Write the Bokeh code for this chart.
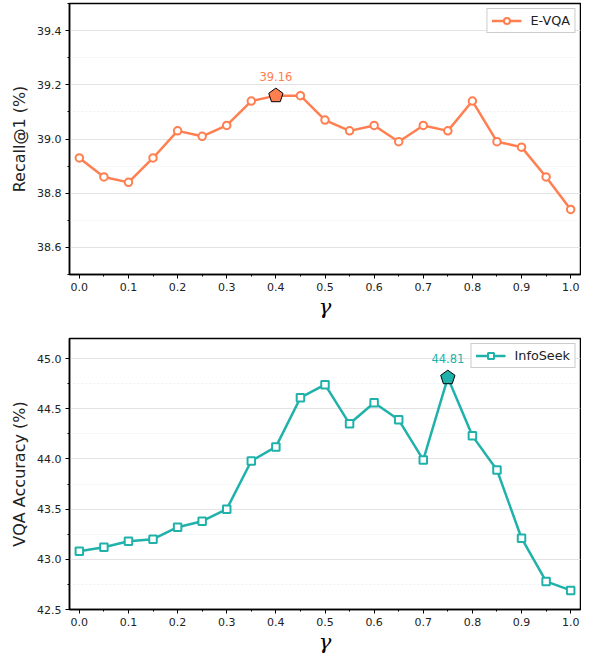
from bokeh.plotting import figure
from bokeh.layouts import column
from bokeh.models import Range1d, FixedTicker, PrintfTickFormatter, Legend, LegendItem
from bokeh.core.properties import value
from bokeh.embed import file_html
from bokeh.resources import INLINE

gamma = [0.0, 0.05, 0.1, 0.15, 0.2, 0.25, 0.3, 0.35, 0.4, 0.45, 0.5,
         0.55, 0.6, 0.65, 0.7, 0.75, 0.8, 0.85, 0.9, 0.95, 1.0]
evqa = [38.93, 38.86, 38.84, 38.93, 39.03, 39.01, 39.05, 39.14, 39.16, 39.16, 39.07,
        39.03, 39.05, 38.99, 39.05, 39.03, 39.14, 38.99, 38.97, 38.86, 38.74]
infoseek = [43.08, 43.12, 43.18, 43.20, 43.32, 43.38, 43.50, 43.98, 44.12, 44.61, 44.74,
            44.35, 44.56, 44.39, 43.99, 44.81, 44.23, 43.89, 43.21, 42.78, 42.69]

x_ticks = [0.0, 0.1, 0.2, 0.3, 0.4, 0.5, 0.6, 0.7, 0.8, 0.9, 1.0]
x_minor = [0.05, 0.15, 0.25, 0.35, 0.45, 0.55, 0.65, 0.75, 0.85, 0.95]
evqa_ticks = [38.6, 38.8, 39.0, 39.2, 39.4]
evqa_minor = [38.5, 38.7, 38.9, 39.1, 39.3, 39.5]
info_ticks = [42.5, 43.0, 43.5, 44.0, 44.5, 45.0]
info_minor = [42.75, 43.25, 43.75, 44.25, 44.75]

ORANGE = "#FF7F50"
TEAL = "#20B2AA"
FONT = "DejaVu Sans"


def make_panel(ys, name, color, marker, ylabel, yrange, yticks, yminor,
               height, border_top, border_bottom):
    p = figure(width=581, height=height, output_backend="svg", toolbar_location=None,
               x_range=Range1d(-0.02, 1.02), y_range=Range1d(*yrange),
               min_border_left=69, min_border_right=1, min_border_top=border_top,
               min_border_bottom=border_bottom)
    p.background_fill_color = "white"
    p.border_fill_color = "white"
    p.outline_line_color = "black"
    p.outline_line_width = 1.5
    p.outline_line_alpha = 1.0

    # grid
    p.xgrid.visible = False
    p.ygrid.grid_line_color = "#e3e3e3"
    p.ygrid.grid_line_width = 1
    p.ygrid.minor_grid_line_color = "#ececec"
    p.ygrid.minor_grid_line_dash = "2 2"
    p.ygrid.minor_grid_line_width = 0.8

    # axes
    p.xaxis.ticker = FixedTicker(ticks=x_ticks, minor_ticks=x_minor)
    p.yaxis.ticker = FixedTicker(ticks=yticks, minor_ticks=yminor)
    p.xaxis.formatter = PrintfTickFormatter(format="%.1f")
    p.yaxis.formatter = PrintfTickFormatter(format="%.1f")
    for ax in (p.xaxis[0], p.yaxis[0]):
        ax.axis_line_color = "black"
        ax.axis_line_width = 1.5
        ax.major_tick_line_color = "black"
        ax.minor_tick_line_color = "black"
        ax.major_tick_in = 0
        ax.major_tick_out = 4
        ax.minor_tick_in = 0
        ax.minor_tick_out = 2
        ax.major_label_text_font = FONT
        ax.major_label_text_font_size = "11px"
        ax.major_label_text_color = "#222222"
        ax.major_label_standoff = 4
    p.xaxis.axis_label = "γ"
    p.xaxis.axis_label_text_font = "DejaVu Serif"
    p.xaxis.axis_label_text_font_style = "italic"
    p.xaxis.axis_label_text_font_size = "21px"
    p.xaxis.axis_label_text_color = "black"
    p.xaxis.axis_label_standoff = 1
    p.yaxis.axis_label = ylabel
    p.yaxis.axis_label_text_font = FONT
    p.yaxis.axis_label_text_font_style = "normal"
    p.yaxis.axis_label_text_font_size = "16px"
    p.yaxis.axis_label_text_color = "#222222"
    p.yaxis.axis_label_standoff = 5

    line = p.line(gamma, ys, line_color=color, line_width=2.5)
    pts = p.scatter(gamma, ys, marker=marker, size=7.5, fill_color="white",
                    line_color=color, line_width=2)

    # highlight maximum
    i_max = max(range(len(ys)), key=lambda i: ys[i])
    xm, ym = gamma[i_max], ys[i_max]
    p.ngon(x=[xm], y=[ym], radius=7.5, radius_units="screen", n=5,
           angle=0, fill_color=color, line_color="black", line_width=1)
    p.text(x=[xm], y=[ym], text=[f"{ym:.2f}"], text_align="center",
           text_baseline="bottom", y_offset=-15, text_color=color,
           text_font=value(FONT), text_font_size="11.5px")

    legend = Legend(items=[LegendItem(label=name, renderers=[line, pts])],
                    location="top_right")
    legend.margin = 5
    legend.padding = 4
    legend.spacing = 0
    legend.label_text_font = FONT
    legend.label_text_font_size = "12.8px"
    legend.label_text_color = "#222222"
    legend.label_standoff = 9
    legend.label_height = 15
    legend.glyph_height = 15
    legend.glyph_width = 30
    legend.border_line_color = "#9a9a9a"
    legend.border_line_width = 1
    legend.background_fill_color = "white"
    legend.background_fill_alpha = 1.0
    p.add_layout(legend)
    return p


p1 = make_panel(evqa, "E-VQA", ORANGE, "circle", "Recall@1 (%)", (38.5, 39.5),
                evqa_ticks, evqa_minor, 336, 3, 62)
p2 = make_panel(infoseek, "InfoSeek", TEAL, "square", "VQA Accuracy (%)", (42.5, 45.2),
                info_ticks, info_minor, 320, 2, 47)

layout = column(p1, p2, spacing=0)
open("out.html", "w").write(file_html(layout, INLINE))
